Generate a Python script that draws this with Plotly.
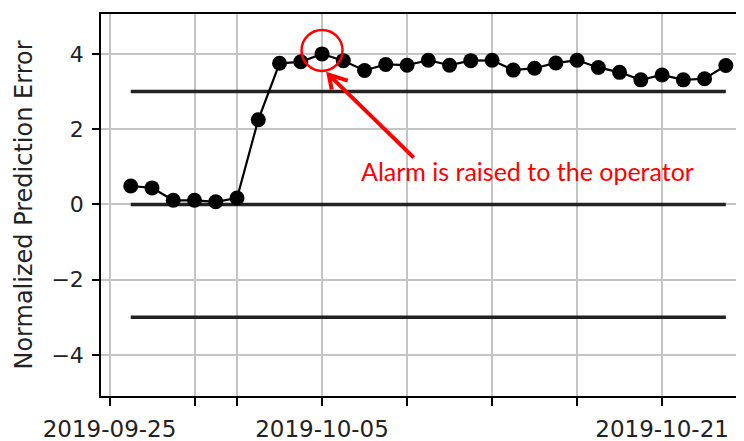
import plotly.graph_objects as go

dates = [
    '2019-09-26', '2019-09-27', '2019-09-28', '2019-09-29', '2019-09-30',
    '2019-10-01', '2019-10-02', '2019-10-03', '2019-10-04', '2019-10-05',
    '2019-10-06', '2019-10-07', '2019-10-08', '2019-10-09', '2019-10-10',
    '2019-10-11', '2019-10-12', '2019-10-13', '2019-10-14', '2019-10-15',
    '2019-10-16', '2019-10-17', '2019-10-18', '2019-10-19', '2019-10-20',
    '2019-10-21', '2019-10-22', '2019-10-23', '2019-10-24']
errors = [
    0.49, 0.44, 0.11, 0.11, 0.07, 0.17, 2.25, 3.75, 3.79, 4.0,
    3.82, 3.56, 3.72, 3.70, 3.83, 3.70, 3.82, 3.83, 3.57, 3.62,
    3.76, 3.83, 3.64, 3.51, 3.31, 3.44, 3.31, 3.34, 3.69]
limits = [3, 0, -3]
alarm_date = '2019-10-05'
alarm_text = 'Alarm is raised to the operator'

tick_dates = ['2019-09-25', '2019-09-29', '2019-10-01', '2019-10-05',
              '2019-10-09', '2019-10-13', '2019-10-17', '2019-10-21']
tick_text = ['2019-09-25', '', '', '2019-10-05', '', '', '', '2019-10-21']

data = []
for lvl in limits:
    data.append(go.Scatter(x=[dates[0], dates[-1]], y=[lvl, lvl],
                           mode='lines', line=dict(color='#222222', width=3.5),
                           showlegend=False, hoverinfo='skip'))

data.append(go.Scatter(x=dates, y=errors, mode='lines+markers',
                       line=dict(color='black', width=2.2),
                       marker=dict(color='black', size=15),
                       showlegend=False))

alarm_val = errors[dates.index(alarm_date)]

# page body has an 8px margin, so the figure is 8px smaller than the window
layout = go.Layout(
    width=736, height=433,
    margin=dict(l=93, r=0, t=6, b=45),
    paper_bgcolor='white', plot_bgcolor='white',
    font=dict(family='DejaVu Sans', color='#222222'),
    xaxis=dict(type='date', range=['2019-09-24 14:24', '2019-10-24 20:30'],
               tickmode='array', tickvals=tick_dates, ticktext=tick_text,
               showgrid=True, gridcolor='#c4c4c4', gridwidth=1.5,
               showline=True, linecolor='black', linewidth=1.5, mirror=True,
               ticks='outside', ticklen=8, tickwidth=1.5, tickcolor='black',
               tickfont=dict(size=23), ticklabelstandoff=4, automargin=False,
               zeroline=False),
    yaxis=dict(range=[-5.09, 5.06], tickvals=[-4, -2, 0, 2, 4],
               showgrid=True, gridcolor='#c4c4c4', gridwidth=1.5,
               showline=True, linecolor='black', linewidth=1.5,
               ticks='outside', ticklen=7, tickwidth=1.5, tickcolor='black',
               tickfont=dict(size=22), ticklabelstandoff=4, zeroline=False,
               title=dict(text='Normalized Prediction Error',
                          font=dict(size=24), standoff=12)),
    shapes=[
        dict(type='circle', xref='x', yref='y', xsizemode='pixel', ysizemode='pixel',
             xanchor=alarm_date, yanchor=alarm_val,
             x0=-20.5, x1=20.5, y0=-17, y1=24,
             line=dict(color='#ff0000', width=2.5)),
        dict(type='path', xref='x', yref='y', xsizemode='pixel', ysizemode='pixel',
             xanchor=alarm_date, yanchor=alarm_val,
             path='M91.7,-103.7 L6.7,-20.7 M25.7,-26.7 L6.7,-20.7 L9.7,-35.7',
             line=dict(color='#ff0000', width=4)),
    ],
    annotations=[
        dict(text=alarm_text, xref='paper', yref='y', x=0.401, y=0.9,
             xanchor='left', yanchor='middle', showarrow=False,
             font=dict(family='Lato', size=25, color='#ff0000')),
    ],
)

fig = go.Figure(data=data, layout=layout)
fig.write_html('out.html')
